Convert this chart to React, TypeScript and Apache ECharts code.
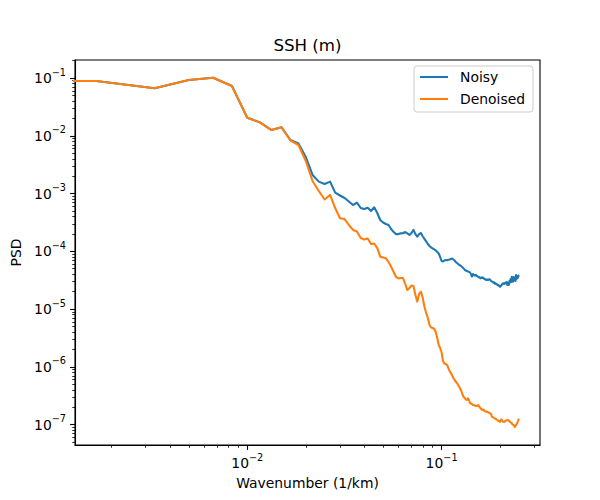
import React, { useEffect, useRef } from "react";
import * as echarts from "echarts";

const FONT = "DejaVu Sans";

// FFT wavenumber grid: k_n = n * dk, n = 0..150 (dk = 1/600 km^-1)
const dk = 1 / 600;
const wavenumber: number[] = Array.from({ length: 151 }, (_, n) => n * dk);

const noisy: number[] = [
  0.089, 0.089, 0.0667, 0.0927, 0.1016, 0.073, 0.0205, 0.017, 0.0126, 0.0141,
  0.00848, 0.00737, 0.0043, 0.0021, 0.00161, 0.00147, 0.00161, 0.00104, 0.000927, 0.000839,
  0.00073, 0.000635, 0.000696, 0.000563, 0.000541, 0.00057, 0.0005, 0.000579, 0.000461, 0.000349,
  0.000316, 0.000298, 0.000286, 0.000244, 0.000216, 0.000199, 0.000199, 0.000205, 0.000206, 0.000216,
  0.000205, 0.000192, 0.000208, 0.000235, 0.000199, 0.00018, 0.000199, 0.000208, 0.000181, 0.000164,
  0.000148, 0.000134, 0.000124, 0.000117, 0.000112, 0.000108, 0.000104, 9.74e-5, 9.18e-5, 7.98e-5,
  6.81e-5, 6.67e-5, 6.94e-5, 7.08e-5, 7.02e-5, 7.14e-5, 7.23e-5, 7.37e-5, 7.52e-5, 7.23e-5,
  6.94e-5, 6.54e-5, 6.28e-5, 6.04e-5, 5.8e-5, 5.69e-5, 5.46e-5, 5.25e-5, 5.05e-5, 4.76e-5,
  4.66e-5, 4.57e-5, 4.48e-5, 4.44e-5, 4.3e-5, 4.05e-5, 3.67e-5, 4.05e-5, 3.89e-5, 3.82e-5,
  3.89e-5, 3.74e-5, 3.67e-5, 3.6e-5, 3.53e-5, 3.41e-5, 3.53e-5, 3.45e-5, 3.53e-5, 3.39e-5,
  3.32e-5, 3.26e-5, 3.19e-5, 3.26e-5, 3.19e-5, 3.26e-5, 3.29e-5, 3.19e-5, 3.06e-5, 3.01e-5,
  2.98e-5, 2.86e-5, 2.9e-5, 2.76e-5, 2.8e-5, 2.68e-5, 2.7e-5, 2.58e-5, 2.6e-5, 2.48e-5,
  2.44e-5, 2.51e-5, 2.61e-5, 2.72e-5, 2.77e-5, 2.8e-5, 2.72e-5, 2.83e-5, 2.89e-5, 2.77e-5,
  2.95e-5, 2.61e-5, 2.83e-5, 2.61e-5, 3.06e-5, 2.89e-5, 3.32e-5, 2.95e-5, 3.64e-5, 3.06e-5,
  2.98e-5, 3.6e-5, 3.19e-5, 3.45e-5, 3.06e-5, 3.89e-5, 3.32e-5, 3.74e-5, 3.45e-5, 3.82e-5,
  3.6e-5,
];

const denoised: number[] = [
  0.089, 0.089, 0.0667, 0.0927, 0.1016, 0.073, 0.0205, 0.017, 0.0126, 0.0141,
  0.00831, 0.00694, 0.00367, 0.00165, 0.00111, 0.00079, 0.000946, 0.000563, 0.000374, 0.000363,
  0.000286, 0.000235, 0.000221, 0.00017, 0.00016, 0.000167, 0.000134, 0.000137, 0.000114, 8.08e-5,
  7.82e-5, 7.58e-5, 6.54e-5, 5.42e-5, 4.39e-5, 3.6e-5, 3.41e-5, 3.45e-5, 3.45e-5, 2.72e-5,
  2.14e-5, 2.32e-5, 2.56e-5, 2.51e-5, 1.75e-5, 1.35e-5, 1.83e-5, 2.0e-5, 1.56e-5, 1.09e-5,
  8.56e-6, 7.01e-6, 5.3e-6, 4.8e-6, 4.71e-6, 4.53e-6, 4.01e-6, 3.16e-6, 2.39e-6, 2.12e-6,
  1.81e-6, 1.26e-6, 1.14e-6, 1.12e-6, 1.08e-6, 9.55e-7, 8.48e-7, 7.82e-7, 7.08e-7, 6.41e-7,
  5.92e-7, 5.58e-7, 5.25e-7, 4.85e-7, 4.48e-7, 4.14e-7, 3.74e-7, 3.26e-7, 3.01e-7, 2.89e-7,
  2.72e-7, 2.67e-7, 2.85e-7, 2.67e-7, 2.37e-7, 2.32e-7, 2.27e-7, 2.18e-7, 2.18e-7, 2.14e-7,
  2.1e-7, 2.1e-7, 2.14e-7, 2.18e-7, 2.02e-7, 1.94e-7, 1.86e-7, 1.79e-7, 1.83e-7, 1.79e-7,
  1.72e-7, 1.69e-7, 1.67e-7, 1.69e-7, 1.65e-7, 1.62e-7, 1.59e-7, 1.57e-7, 1.5e-7, 1.37e-7,
  1.35e-7, 1.33e-7, 1.3e-7, 1.28e-7, 1.25e-7, 1.23e-7, 1.2e-7, 1.18e-7, 1.16e-7, 1.14e-7,
  1.12e-7, 1.2e-7, 1.24e-7, 1.18e-7, 1.13e-7, 1.12e-7, 1.11e-7, 1.12e-7, 1.16e-7, 1.18e-7,
  1.18e-7, 1.2e-7, 1.2e-7, 1.18e-7, 1.16e-7, 1.11e-7, 1.09e-7, 1.07e-7, 1.05e-7, 1.0e-7,
  1.0e-7, 9.84e-8, 9.46e-8, 9.09e-8, 9.46e-8, 9.84e-8, 1.02e-7, 1.07e-7, 1.13e-7, 1.2e-7,
  1.27e-7,
];

const seriesNames = ["Noisy", "Denoised"];
const seriesColors = ["#1f77b4", "#ff7f0e"];

const xRange = [1.297e-3, 0.3211];
const yRange = [4.44e-8, 0.2056];

const xMajorTicks = [0.01, 0.1];
const xMinorTicks = [
  0.002, 0.003, 0.004, 0.005, 0.006, 0.007, 0.008, 0.009,
  0.02, 0.03, 0.04, 0.05, 0.06, 0.07, 0.08, 0.09,
  0.2, 0.3,
];
const yMajorTicks = [1e-7, 1e-6, 1e-5, 1e-4, 1e-3, 1e-2, 1e-1];
const yMinorTicks: number[] = [];
for (let e = -8; e <= -1; e++) {
  for (let m = 2; m <= 9; m++) {
    const v = Number((m * Math.pow(10, e)).toPrecision(6));
    if (v > yRange[0] && v < yRange[1]) yMinorTicks.push(v);
  }
}

const powLabel = (v: number) => {
  const e = Math.round(Math.log10(v));
  const s = e < 0 ? "\u2212" + -e : String(e);
  return "{b|10}{s|" + s + "}";
};

const labelRich = {
  b: { fontSize: 13.9, fontFamily: FONT, color: "#000", lineHeight: 22 },
  s: { fontSize: 9.7, fontFamily: FONT, color: "#000", verticalAlign: "top", lineHeight: 13 },
};

// matplotlib-like clipping of non-positive values on a log axis
const clipPos = (k: number) => (k > 0 ? k : 1e-300);

export default function App() {
  const ref = useRef<HTMLDivElement>(null);
  useEffect(() => {
    if (!ref.current) return;
    const chart = echarts.init(ref.current, null, { renderer: "svg" });
    const mainAxisCommon = {
      type: "log",
      logBase: 10,
      splitLine: { show: false },
      axisLine: { show: true, lineStyle: { color: "#000", width: 1.1 } },
    };
    const option: any = {
      animation: false,
      backgroundColor: "#fff",
      textStyle: { fontFamily: FONT },
      title: {
        text: "SSH (m)",
        left: 307.5,
        top: 37,
        textAlign: "center",
        padding: 0,
        textStyle: { fontSize: 16.67, fontWeight: "normal", color: "#000", fontFamily: FONT },
      },
      legend: {
        data: seriesNames,
        orient: "vertical",
        right: 67,
        top: 66,
        padding: [3, 8, 5, 6],
        icon: "rect",
        itemWidth: 28,
        itemHeight: 2.1,
        itemGap: 6,
        borderColor: "#cccccc",
        borderWidth: 1,
        borderRadius: 3,
        backgroundColor: "rgba(255,255,255,0.8)",
        textStyle: { fontSize: 13.9, color: "#000", fontFamily: FONT, padding: [0, 0, 0, 7], lineHeight: 16 },
      },
      grid: {
        left: 75,
        right: 60,
        top: 60,
        bottom: 55,
        show: true,
        borderColor: "#000",
        borderWidth: 1.1,
        backgroundColor: "transparent",
        containLabel: false,
        outerBoundsMode: "none",
      },
      xAxis: [
        {
          ...mainAxisCommon,
          position: "bottom",
          min: xRange[0],
          max: xRange[1],
          name: "Wavenumber (1/km)",
          nameLocation: "middle",
          nameGap: 31,
          nameTextStyle: { fontSize: 13.9, color: "#000", fontFamily: FONT },
          axisTick: { show: true, length: 4.9, customValues: xMajorTicks, lineStyle: { color: "#000", width: 1.1 } },
          axisLabel: { show: true, margin: 7, customValues: xMajorTicks, formatter: powLabel, rich: labelRich },
        },
        {
          type: "log",
          logBase: 10,
          position: "bottom",
          min: xRange[0],
          max: xRange[1],
          splitLine: { show: false },
          axisLine: { show: false },
          axisTick: { show: true, length: 2.8, customValues: xMinorTicks, lineStyle: { color: "#000", width: 0.8 } },
          axisLabel: { show: false },
        },
      ],
      yAxis: [
        {
          ...mainAxisCommon,
          position: "left",
          min: yRange[0],
          max: yRange[1],
          name: "PSD",
          nameLocation: "middle",
          nameGap: 47,
          nameTextStyle: { fontSize: 13.9, color: "#000", fontFamily: FONT },
          axisTick: { show: true, length: 4.9, customValues: yMajorTicks, lineStyle: { color: "#000", width: 1.1 } },
          axisLabel: { show: true, margin: 9, customValues: yMajorTicks, formatter: powLabel, rich: labelRich },
        },
        {
          type: "log",
          logBase: 10,
          position: "left",
          min: yRange[0],
          max: yRange[1],
          splitLine: { show: false },
          axisLine: { show: false },
          axisTick: { show: true, length: 2.8, customValues: yMinorTicks, lineStyle: { color: "#000", width: 0.8 } },
          axisLabel: { show: false },
        },
      ],
      series: [noisy, denoised].map((vals, si) => ({
        name: seriesNames[si],
        type: "line",
        xAxisIndex: 0,
        yAxisIndex: 0,
        symbol: "none",
        showSymbol: false,
        clip: true,
        silent: true,
        color: seriesColors[si],
        itemStyle: { color: seriesColors[si] },
        lineStyle: { color: seriesColors[si], width: 2.08, join: "round", cap: "butt" },
        emphasis: { disabled: true },
        data: wavenumber.map((k, i) => [clipPos(k), vals[i]]),
      })),
    };
    chart.setOption(option);
    return () => chart.dispose();
  }, []);
  return (
    <div
      ref={ref}
      style={{ position: "fixed", left: 0, top: 0, width: 600, height: 500, background: "#fff" }}
    />
  );
}
